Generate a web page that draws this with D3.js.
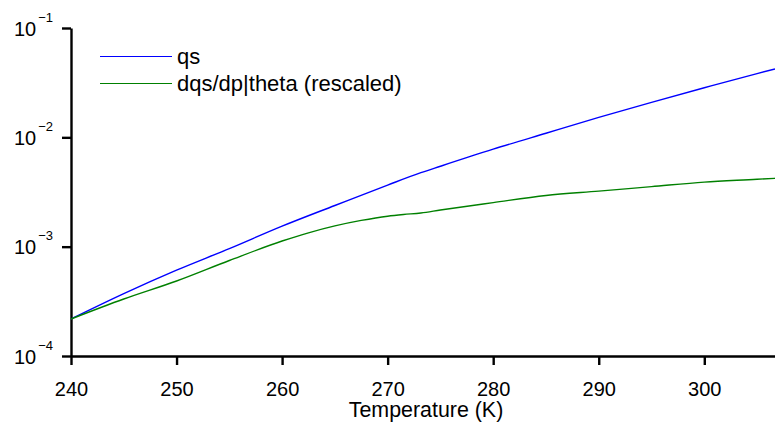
<!DOCTYPE html>
<html>
<head>
<meta charset="utf-8">
<script src="https://cdn.jsdelivr.net/npm/d3@7"></script>
<style>
    body { margin: 0; background: #fff; }
    text { font-family: "Liberation Sans", Arial, sans-serif; }
</style>
</head>
<body>
<svg width="775" height="430"></svg>
<script>
// data
const qsTemps = [240, 245, 250, 255, 260, 265, 270, 273.15, 275, 280, 285, 290, 295, 300, 305, 306.7];
const qs = [2.18e-4, 3.72e-4, 6.1e-4, 9.6e-4, 1.54e-3, 2.38e-3, 3.66e-3, 4.75e-3, 5.44e-3, 7.79e-3, 1.09e-2, 1.52e-2, 2.09e-2, 2.84e-2, 3.83e-2, 4.22e-2];
const dqsTemps = [240, 245, 250, 255, 260, 262.5, 265, 267.5, 270, 271.5, 273.15, 275, 280, 285, 290, 295, 300, 305, 306.7];
const dqsdp = [2.18e-4, 3.32e-4, 4.85e-4, 7.47e-4, 1.126e-3, 1.339e-3, 1.549e-3, 1.738e-3, 1.9e-3, 1.969e-3, 2.032e-3, 2.164e-3, 2.529e-3, 2.938e-3, 3.222e-3, 3.543e-3, 3.896e-3, 4.131e-3, 4.22e-3];
const xTicks = [240, 250, 260, 270, 280, 290, 300];
const yTicks = [1e-4, 1e-3, 1e-2, 1e-1];
const seriesNames = ["qs", "dqs/dp|theta (rescaled)"];
const seriesColors = ["#0000ff", "#008000"];

var svg = d3.select("svg");

var xScale = d3.scaleLinear().domain([240, 306.7]).range([71, 775]),
    yScale = d3.scaleLog().domain([1e-4, 1e-1]).range([356, 28]);

// x axis
var xAxis = svg.append("g")
    .attr("transform", "translate(0," + yScale(1e-4) + ")")
    .call(d3.axisBottom(xScale).tickValues(xTicks).tickSize(9).tickSizeOuter(0).tickPadding(17));

// y axis
var yAxis = svg.append("g")
    .attr("transform", "translate(" + xScale(240) + ",0)")
    .call(d3.axisLeft(yScale).tickValues(yTicks).tickSize(9).tickSizeOuter(0).tickPadding(9).tickFormat(""));

svg.selectAll(".domain, .tick line")
    .attr("stroke", "#000")
    .attr("stroke-width", 2.4);

xAxis.selectAll(".tick text")
    .attr("fill", "#000")
    .style("font-size", "20px");

// powers of ten labels
yAxis.selectAll(".tick text")
    .attr("fill", "#000")
    .attr("dy", "7")
    .style("font-size", "20px")
    .each(function (d) {
        var t = d3.select(this);
        t.append("tspan").text("10");
        t.append("tspan")
            .attr("dx", "2")
            .attr("dy", "-14")
            .style("font-size", "13px")
            .text("\u2212" + Math.round(-Math.log10(d)));
    });

// axis title
svg.append("text")
    .attr("x", 426)
    .attr("y", 417)
    .attr("text-anchor", "middle")
    .style("font-size", "21.4px")
    .text("Temperature (K)");

// curves
var line = d3.line()
    .curve(d3.curveMonotoneX)
    .x(function (d) { return xScale(d[0]); })
    .y(function (d) { return yScale(d[1]); });

[[qsTemps, qs], [dqsTemps, dqsdp]].forEach(function (s, i) {
    svg.append("path")
        .datum(d3.zip(s[0], s[1]))
        .attr("fill", "none")
        .attr("stroke", seriesColors[i])
        .attr("stroke-width", 1.4)
        .attr("d", line);
});

// legend
var legend = svg.append("g").attr("class", "legend");
seriesNames.forEach(function (name, i) {
    var y = 56.5 + i * 27;
    legend.append("line")
        .attr("x1", 100)
        .attr("x2", 172)
        .attr("y1", y)
        .attr("y2", y)
        .attr("stroke", seriesColors[i])
        .attr("stroke-width", 1);
    legend.append("text")
        .attr("x", 177)
        .attr("y", y + 7.5)
        .style("font-size", "22px")
        .text(name);
});
</script>
</body>
</html>
